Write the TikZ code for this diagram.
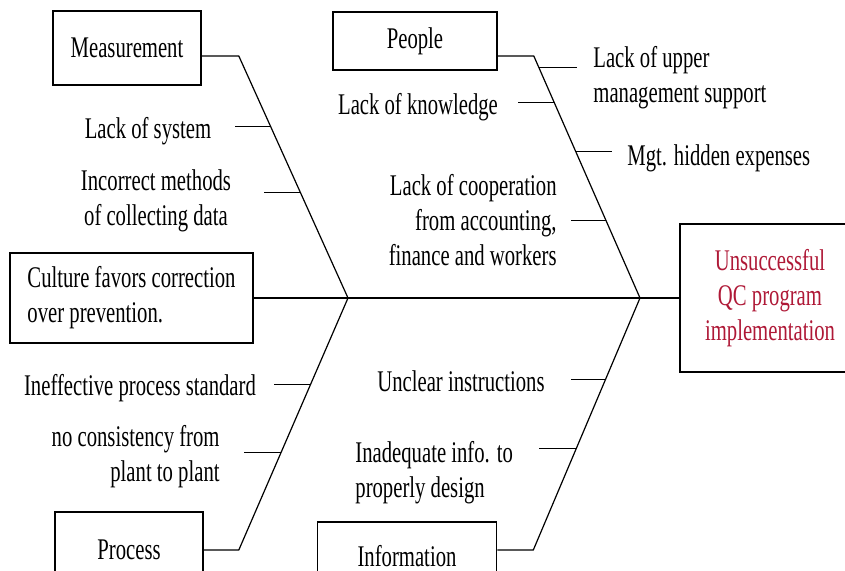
\documentclass[tikz,border=0pt]{standalone}
\usepackage{fontspec}
\setmainfont{Liberation Serif}[FakeStretch=0.69]
\usetikzlibrary{calc}
\definecolor{qcred}{RGB}{175,25,55}
\tikzset{
  box/.style={draw, line width=0.8pt, inner sep=0pt, align=center},
  cause/.style={inner sep=0pt, align=center},
  bone/.style={line width=0.6pt},
}

\begin{document}
\begin{tikzpicture}[x=0.5pt, y=-0.5pt, font=\fontsize{15}{17.5}\selectfont]
    \useasboundingbox (0,0) rectangle (845,571);

    % Category boxes
    \node[box, minimum width=74pt, minimum height=37pt] (meas) at (127,48) {Measurement};
    \node[box, minimum width=82pt, minimum height=29pt] (people) at (415,41) {People};
    \node[box, minimum width=121.5pt, minimum height=45pt, align=left] (cult) at (131.5,298) {Culture favors correction\\over prevention.};
    \node[box, minimum width=74pt, minimum height=38pt] (proc) at (129,550) {Process};
    \node[box, minimum width=89.5pt, minimum height=34pt] (info) at (407,556) {Information};

    % Effect
    \node[box, minimum width=90pt, minimum height=74pt, text=qcred] (eff) at (770,298) {Unsuccessful\\QC program\\implementation};

    % Junctions on the spine
    \coordinate (jl) at (348,298);
    \coordinate (jr) at (640,298);

    % Spine
    \draw[bone] (cult) -- (eff);

    % Bones
    \draw[bone] ([yshift=-4pt]meas.east) -- ++(37,0) coordinate (mk) -- (jl);
    \draw[bone] ([yshift=-7.5pt]people.east) -- ++(36,0) coordinate (pk) -- (jr);
    \draw[bone] (proc.east) -- ++(35,0) coordinate (prk) -- (jl);
    \draw[bone] ([yshift=3pt]info.east) -- ++(36,0) coordinate (ik) -- (jr);

    % Measurement causes
    \draw[bone] ($(mk)!0.292!(jl)$) -- ++(-36,0);
    \draw[bone] ($(mk)!0.564!(jl)$) -- ++(-36,0);
    \node[cause] (sys) at (148,131) {Lack of system};
    \node[cause] (meth) at (156,201) {Incorrect methods\\of collecting data};

    % People causes
    \draw[bone] ($(pk)!0.049!(jr)$) -- ++(38,0);
    \draw[bone] ($(pk)!0.193!(jr)$) -- ++(-36,0);
    \draw[bone] ($(pk)!0.395!(jr)$) -- ++(36,0);
    \draw[bone] ($(pk)!0.679!(jr)$) -- ++(-35,0);
    \node[cause, anchor=west, align=left] (upper) at (593,78) {Lack of upper\\management support};
    \node[cause] (know) at (418,107) {Lack of knowledge};
    \node[cause, anchor=west] (hidden) at (627,158) {Mgt. hidden expenses};
    \node[cause, anchor=east, align=right] (coop) at (557,220) {Lack of cooperation\\from accounting,\\finance and workers};

    % Process causes
    \draw[bone] ($(prk)!0.657!(jl)$) -- ++(-37,0);
    \draw[bone] ($(prk)!0.386!(jl)$) -- ++(-37,0);
    \node[cause] (std) at (140,388) {Ineffective process standard};
    \node[cause, anchor=east, align=right] (cons) at (220,457) {no consistency from\\plant to plant};

    % Information causes
    \draw[bone] ($(ik)!0.677!(jr)$) -- ++(-35,0);
    \draw[bone] ($(ik)!0.402!(jr)$) -- ++(-37,0);
    \node[cause] (instr) at (461,381) {Unclear instructions};
    \node[cause, anchor=west, align=left] (inad) at (355,473) {Inadequate info. to\\properly design};

\end{tikzpicture}
\end{document}
